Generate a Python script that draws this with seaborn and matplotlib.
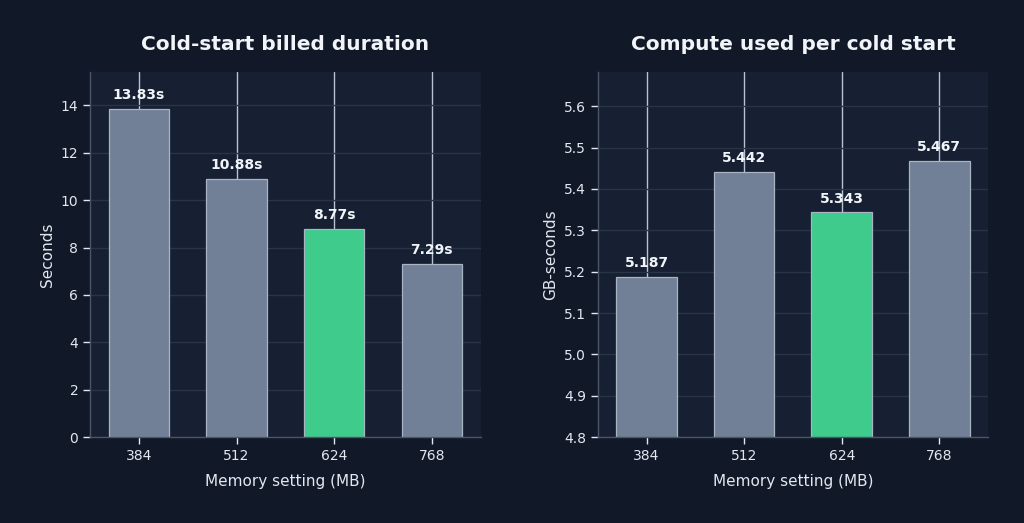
import matplotlib
matplotlib.use("Agg")
import matplotlib.pyplot as plt
import seaborn as sns
import pandas as pd

memory = ["384", "512", "624", "768"]
duration_s = [13.83, 10.88, 8.77, 7.29]
gb_seconds = [5.187, 5.442, 5.343, 5.467]
highlight = "624"

FIG_BG = "#111827"
AX_BG = "#171f33"
GREY = "#718096"
GREEN = "#3ecb8b"
TEXT = "#e2e8f0"

sns.set_theme(style="darkgrid")
plt.rcParams.update({
    "font.family": ["DejaVu Sans"],
    "figure.facecolor": FIG_BG,
    "axes.facecolor": AX_BG,
    "axes.edgecolor": "#4a5568",
    "text.color": TEXT,
    "axes.labelcolor": TEXT,
    "xtick.color": TEXT,
    "ytick.color": TEXT,
    "xtick.major.size": 5,
    "ytick.major.size": 5,
    "xtick.major.width": 1,
    "ytick.major.width": 1,
    "xtick.bottom": True,
    "ytick.left": True,
})

df = pd.DataFrame({"memory": memory, "duration": duration_s, "gbs": gb_seconds})
palette = {m: (GREEN if m == highlight else GREY) for m in memory}

fig, axes = plt.subplots(1, 2, figsize=(10.24, 5.23), dpi=100)
fig.subplots_adjust(left=0.088, right=0.965, top=0.862, bottom=0.164, wspace=0.3)

specs = [
    (axes[0], "duration", "Cold-start billed duration", "Seconds", (0, 15.4), "{:.2f}s"),
    (axes[1], "gbs", "Compute used per cold start", "GB-seconds", (4.8, 5.682), "{:.3f}"),
]

for ax, col, title, ylabel, ylim, fmt in specs:
    sns.barplot(data=df, x="memory", y=col, hue="memory", palette=palette,
                order=memory, legend=False, width=0.62, ax=ax,
                edgecolor="#a9b4c4", linewidth=0.9, saturation=1)
    ax.set_ylim(*ylim)
    ax.set_xlim(-0.5, 3.5)
    ax.set_title(title, fontsize=14.5, fontweight="bold", color="#f1f5f9", pad=16)
    ax.set_xlabel("Memory setting (MB)", fontsize=11, labelpad=8)
    ax.set_ylabel(ylabel, fontsize=11)
    ax.tick_params(axis="both", which="major", labelsize=10, length=5, width=1,
                   color="#e2e8f0", bottom=True, left=True)
    ax.grid(axis="y", color="#2a3447", linewidth=1)
    ax.grid(axis="x", color="#b8c2d0", linewidth=1)
    ax.set_axisbelow(True)
    for s in ["top", "right"]:
        ax.spines[s].set_visible(False)
    for s in ["left", "bottom"]:
        ax.spines[s].set_color("#4a5568")
        ax.spines[s].set_linewidth(1)
    for container in ax.containers:
        ax.bar_label(container, labels=[fmt.format(v) for v in container.datavalues],
                     padding=5, fontsize=10, fontweight="bold", color="#f1f5f9")

fig.savefig("out.png", dpi=100, facecolor=FIG_BG)
